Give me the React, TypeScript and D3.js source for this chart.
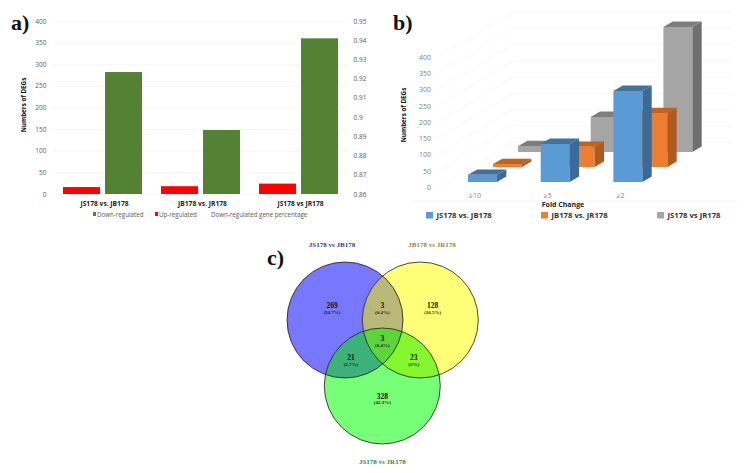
import { useEffect, useRef } from "react";
import * as d3 from "d3";

// panel a
const comparisons = ["JS178 vs. JB178", "JB178 vs. JR178", "JS178 vs JR178"];
const upRegulated = [16, 18, 24];
const downRegulated = [282, 148, 360];
const leftTicks = [0, 50, 100, 150, 200, 250, 300, 350, 400];
const rightTicks = [0.86, 0.87, 0.88, 0.89, 0.9, 0.91, 0.92, 0.93, 0.94, 0.95];

// panel b
const foldChanges = ["≥10", "≥5", "≥2"];
const seriesB = ["JS178 vs. JB178", "JB178 vs. JR178", "JS178 vs JR178"];
const valuesJsJb = [22, 117, 280];
const valuesJbJr = [9, 62, 166];
const valuesJsJr = [18, 108, 385];
const ticksB = [0, 50, 100, 150, 200, 250, 300, 350, 400];

// panel c
const vennSets = ["JS178 vs JB178", "JB178 vs JR178", "JS178 vs JR178"];
const vennCounts = ["269", "3", "128", "3", "21", "23", "328"];
const vennPercents = ["(34.7%)", "(0.4%)", "(16.5%)", "(0.4%)", "(2.7%)", "(3%)", "(42.3%)"];

const SANS = "'Open Sans', 'Noto Sans', sans-serif";
const SERIF = "'Liberation Serif', serif";

function panelLabel(svg: any, text: string, x: number, y: number) {
  svg.append("text").attr("x", x).attr("y", y).text(text)
    .style("font-family", SERIF).style("font-weight", 700).style("font-size", "22px").attr("fill", "#111");
}

function drawA(svg: any) {
  const g = svg.append("g");
  const y = d3.scaleLinear().domain([0, 400]).range([194, 21]);
  const yRight = d3.scaleLinear().domain([0.86, 0.95]).range([194, 21]);
  const x0 = d3.scaleBand().domain(comparisons).range([53.5, 347.5]);
  const x1 = d3.scaleBand().domain(["up", "down"]).range([9.5, 88.5]).paddingInner(0.12);

  const gridAxis = g.append("g").call(d3.axisLeft(y).tickValues(leftTicks).tickSize(-294).tickPadding(7).tickFormat(d3.format("d")))
    .attr("transform", "translate(53.5,0)");
  gridAxis.select(".domain").remove();
  gridAxis.selectAll("line").attr("stroke", "#f1f1f1").attr("stroke-width", 0.7);
  gridAxis.selectAll("text").attr("fill", "#595959").style("font-family", SANS).style("font-size", "6.5px");

  const rightAxis = g.append("g").attr("transform", "translate(347.5,0)")
    .call(d3.axisRight(yRight).tickValues(rightTicks).tickSize(0).tickPadding(6).tickFormat((d: any) => String(+d)));
  rightAxis.select(".domain").remove();
  rightAxis.selectAll("text").attr("fill", "#595959").style("font-family", SANS).style("font-size", "6.5px");

  comparisons.forEach((c, i) => {
    const left = x0(c) as number;
    g.append("rect").attr("x", left + (x1("up") as number)).attr("y", y(upRegulated[i]))
      .attr("width", x1.bandwidth()).attr("height", y(0) - y(upRegulated[i])).attr("fill", "#ff0000");
    g.append("rect").attr("x", left + (x1("down") as number)).attr("y", y(downRegulated[i]))
      .attr("width", x1.bandwidth()).attr("height", y(0) - y(downRegulated[i])).attr("fill", "#548235");
    g.append("text").attr("x", left + 51).attr("y", 205.5).attr("text-anchor", "middle").text(c)
      .style("font-family", SANS).style("font-weight", 700).style("font-size", "6.7px").attr("fill", "#222");
  });

  g.append("text").attr("transform", "translate(26,105) rotate(-90)").attr("text-anchor", "middle").text("Numbers of DEGs")
    .style("font-family", SANS).style("font-weight", 700).style("font-size", "6.3px").attr("fill", "#111");

  g.append("rect").attr("x", 93).attr("y", 212).attr("width", 3).attr("height", 4).attr("fill", "#548235");
  g.append("rect").attr("x", 155).attr("y", 212).attr("width", 3).attr("height", 4).attr("fill", "#ff0000");
  [["Down-regulated", 97], ["Up-regulated", 159], ["Down-regulated gene percentage", 211]].forEach(([t, lx]) => {
    g.append("text").attr("x", lx).attr("y", 216.5).text(t as string)
      .style("font-family", SANS).style("font-size", "6.2px").attr("fill", "#595959");
  });
}

function drawB(svg: any) {
  const g = svg.append("g");
  const y = d3.scaleLinear().domain([0, 400]).range([187, 57]);
  const h = d3.scaleLinear().domain([0, 400]).range([0, 130]);
  const xCat = d3.scalePoint().domain(foldChanges).range([468, 613.4]);
  const grid = "#f5f5f5";

  // walls
  ticksB.forEach((t) => {
    g.append("path").attr("d", `M438,${y(t)}L513,${y(t) - 45}L732,${y(t) - 45}`)
      .attr("fill", "none").attr("stroke", grid).attr("stroke-width", 0.8);
  });
  const axis = g.append("g").attr("transform", "translate(438,0)")
    .call(d3.axisLeft(y).tickValues(ticksB).tickSize(0).tickPadding(7).tickFormat(d3.format("d")));
  axis.select(".domain").remove();
  axis.selectAll("text").attr("fill", "#7f7f7f").style("font-family", SANS).style("font-size", "7px");

  const series = [
    { values: valuesJsJr, idx: 2, front: "#a5a5a5", top: "#7e7e7e", side: "#6f6f6f" },
    { values: valuesJbJr, idx: 1, front: "#ed7d31", top: "#c2621f", side: "#ae5a21" },
    { values: valuesJsJb, idx: 0, front: "#5b9bd5", top: "#41719c", side: "#3a6a96" },
  ];
  const w = 29, dx = 9.3, dy = 5.4;
  series.forEach((s) => {
    foldChanges.forEach((f, i) => {
      const left = (xCat(f) as number) + s.idx * 25;
      const base = 182 - s.idx * 15;
      const top = base - h(s.values[i]);
      const right = left + w;
      g.append("rect").attr("x", left).attr("y", top).attr("width", w).attr("height", base - top).attr("fill", s.front);
      g.append("path").attr("d", `M${left},${top}L${left + dx},${top - dy}L${right + dx},${top - dy}L${right},${top}Z`).attr("fill", s.top);
      g.append("path").attr("d", `M${right},${top}L${right + dx},${top - dy}L${right + dx},${base - dy}L${right},${base}Z`).attr("fill", s.side);
    });
  });

  foldChanges.forEach((f) => {
    g.append("text").attr("x", (xCat(f) as number) + 7).attr("y", 198).attr("text-anchor", "middle").text(f)
      .style("font-family", SANS).style("font-size", "7px").attr("fill", "#7f7f7f");
  });
  g.append("line").attr("x1", 414).attr("x2", 737).attr("y1", 201).attr("y2", 201).attr("stroke", "#eeeeee").attr("stroke-width", 0.7);

  g.append("text").attr("x", 563).attr("y", 207).attr("text-anchor", "middle").text("Fold Change")
    .style("font-family", SANS).style("font-weight", 700).style("font-size", "7px").attr("fill", "#222");
  g.append("text").attr("transform", "translate(406,115) rotate(-90)").attr("text-anchor", "middle").text("Numbers of DEGs")
    .style("font-family", SANS).style("font-weight", 700).style("font-size", "6.3px").attr("fill", "#111");

  const legendX = [426, 541, 657];
  const legendColor = ["#5b9bd5", "#ed7d31", "#a5a5a5"];
  seriesB.forEach((t, i) => {
    g.append("rect").attr("x", legendX[i]).attr("y", 212).attr("width", 7).attr("height", 6.5).attr("fill", legendColor[i]);
    g.append("text").attr("x", legendX[i] + 10.5).attr("y", 218).text(t)
      .style("font-family", SANS).style("font-weight", 700).style("font-size", "7.7px").attr("fill", "#333");
  });
}

function drawC(svg: any) {
  const g = svg.append("g");
  const r = 58;
  const circles = [
    { id: "blue", cx: 345, cy: 320, fill: "#7777ff" },
    { id: "yellow", cx: 420.3, cy: 320, fill: "#ffff77" },
    { id: "green", cx: 382.3, cy: 386, fill: "#77ff77" },
  ];
  const defs = g.append("defs");
  circles.forEach((c) => {
    defs.append("clipPath").attr("id", `clip-${c.id}`).append("circle").attr("cx", c.cx).attr("cy", c.cy).attr("r", r);
    g.append("circle").attr("cx", c.cx).attr("cy", c.cy).attr("r", r).attr("fill", c.fill);
  });
  const [blue, yellow, green] = circles;
  const overlap = (clipId: string, c: any, fill: string) =>
    g.append("g").attr("clip-path", `url(#clip-${clipId})`)
      .append("circle").attr("cx", c.cx).attr("cy", c.cy).attr("r", r).attr("fill", fill);
  overlap(blue.id, yellow, "#bab878");
  overlap(blue.id, green, "#3cb27a");
  overlap(yellow.id, green, "#84f82c");
  // centre: both clips nested
  g.append("g").attr("clip-path", "url(#clip-blue)")
    .append("g").attr("clip-path", "url(#clip-yellow)")
    .append("circle").attr("cx", green.cx).attr("cy", green.cy).attr("r", r).attr("fill", "#5cd43c");
  circles.forEach((c) => {
    g.append("circle").attr("cx", c.cx).attr("cy", c.cy).attr("r", r).attr("fill", "none").attr("stroke", "#1c1c1c").attr("stroke-width", 0.8);
  });

  const labelX = [332, 382.3, 432.7, 382.3, 351, 413.7, 382.3];
  const labelY = [308, 308, 308, 341, 360, 360, 398.5];
  vennCounts.forEach((t, i) => {
    g.append("text").attr("x", labelX[i]).attr("y", labelY[i]).attr("text-anchor", "middle").text(t)
      .style("font-family", SERIF).style("font-weight", 700).style("font-size", "7.5px").attr("fill", "#111");
    g.append("text").attr("x", labelX[i]).attr("y", labelY[i] + 5.5).attr("text-anchor", "middle").text(vennPercents[i])
      .style("font-family", SERIF).style("font-weight", 700).style("font-size", "5px").attr("fill", "#222");
  });

  const titleX = [332, 432, 382.3];
  const titleY = [247, 247, 464];
  const titleColor = ["#3b38a0", "#8c8a48", "#2f8a52"];
  vennSets.forEach((t, i) => {
    g.append("text").attr("x", titleX[i]).attr("y", titleY[i]).attr("text-anchor", "middle").text(t)
      .style("font-family", SERIF).style("font-weight", 700).style("font-size", "7px").attr("fill", titleColor[i]);
  });
}

export default function App() {
  const ref = useRef<SVGSVGElement>(null);

  useEffect(() => {
    const svg = d3.select(ref.current);
    svg.selectAll("*").remove();
    drawA(svg);
    drawB(svg);
    drawC(svg);
    panelLabel(svg, "a)", 11, 30);
    panelLabel(svg, "b)", 393, 30);
    panelLabel(svg, "c)", 267, 265);
  }, []);

  return (
    <svg
      ref={ref}
      width={750}
      height={473}
      style={{ position: "absolute", left: 0, top: 0, background: "#fff", display: "block" }}
    />
  );
}
